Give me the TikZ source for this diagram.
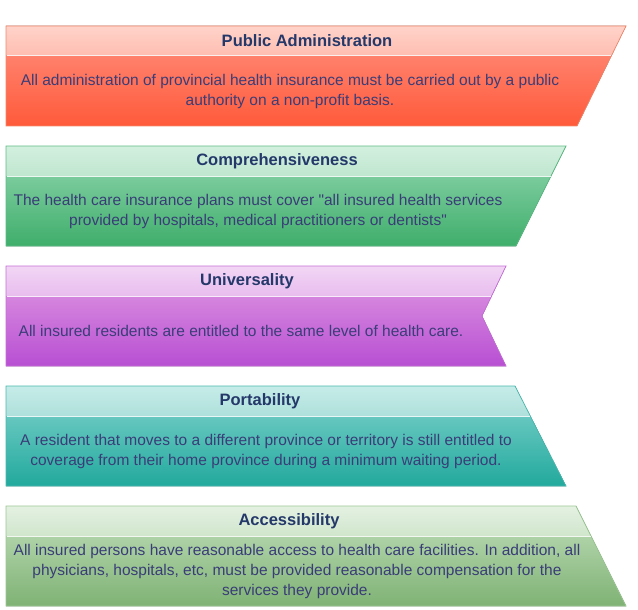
\documentclass[tikz,border=0pt]{standalone}
\usepackage{fontspec}
\setmainfont[Ligatures=TeXOff]{Liberation Sans}
\usepackage{tikz}
\usetikzlibrary{positioning}
\definecolor{hd-text}{HTML}{24386A}
\definecolor{bd-text}{HTML}{3A3D78}
% band colours
\definecolor{pa-head1}{HTML}{FFD3CA}\definecolor{pa-head2}{HTML}{FFBDB0}
\definecolor{pa-body1}{HTML}{FF806B}\definecolor{pa-body2}{HTML}{FF5A3A}
\definecolor{pa-line}{HTML}{F2876A}
\definecolor{co-head1}{HTML}{D3F0DF}\definecolor{co-head2}{HTML}{BFE6CF}
\definecolor{co-body1}{HTML}{7ACB9C}\definecolor{co-body2}{HTML}{3FAE6B}
\definecolor{co-line}{HTML}{5DBB84}
\definecolor{un-head1}{HTML}{F2D6F5}\definecolor{un-head2}{HTML}{E8BDEE}
\definecolor{un-body1}{HTML}{D585DE}\definecolor{un-body2}{HTML}{B84FD3}
\definecolor{un-line}{HTML}{C56ED8}
\definecolor{po-head1}{HTML}{C6ECE8}\definecolor{po-head2}{HTML}{AEE0DB}
\definecolor{po-body1}{HTML}{66C7BF}\definecolor{po-body2}{HTML}{22A99D}
\definecolor{po-line}{HTML}{49B9AF}
\definecolor{ac-head1}{HTML}{E4F1E2}\definecolor{ac-head2}{HTML}{D0E6CC}
\definecolor{ac-body1}{HTML}{AED2A7}\definecolor{ac-body2}{HTML}{7FB274}
\definecolor{ac-line}{HTML}{9CC794}

\begin{document}
\begin{tikzpicture}[x=1pt, y=-1pt,
    head text/.style={text=hd-text, font=\fontsize{16.5}{18}\selectfont\bfseries, inner sep=0pt},
    body text/.style={text=bd-text, font=\fontsize{15.5}{20}\selectfont, align=center, inner sep=0pt},
    split/.style={white, opacity=0.85, line width=1pt}]
    \useasboundingbox (0,0) rectangle (638,610);

    % Public Administration
    \fill[top color=pa-head1, bottom color=pa-head2] (6,26) -- (626,26) -- (611.3,56) -- (6,56) -- cycle;
    \fill[top color=pa-body1, bottom color=pa-body2] (6,56) -- (611.3,56) -- (577,126) -- (6,126) -- cycle;
    \draw[pa-line, line width=0.7pt] (6,26) -- (626,26) -- (577,126) -- (6,126) -- cycle;
    \draw[split] (6.5,56) -- (611,56);
    \node[head text] (pahead) at (307,41) {Public Administration};
    \node[body text] (patext) at (290,91) {All administration of provincial health insurance must be carried out by a public\\authority on a non-profit basis.};

    % Comprehensiveness
    \fill[top color=co-head1, bottom color=co-head2] (6,146) -- (566,146) -- (551,176) -- (6,176) -- cycle;
    \fill[top color=co-body1, bottom color=co-body2] (6,176) -- (551,176) -- (516,246) -- (6,246) -- cycle;
    \draw[co-line, line width=0.7pt] (6,146) -- (566,146) -- (516,246) -- (6,246) -- cycle;
    \draw[split] (6.5,176) -- (550.5,176);
    \node[head text] (cohead) at (277,161) {Comprehensiveness};
    \node[body text] (cotext) at (258,211) {The health care insurance plans must cover "all insured health services\\provided by hospitals, medical practitioners or dentists"};

    % Universality
    \fill[top color=un-head1, bottom color=un-head2] (6,266) -- (506,266) -- (491.6,296) -- (6,296) -- cycle;
    \fill[top color=un-body1, bottom color=un-body2] (6,296) -- (491.6,296) -- (482,316) -- (506,366) -- (6,366) -- cycle;
    \draw[un-line, line width=0.7pt] (6,266) -- (506,266) -- (482,316) -- (506,366) -- (6,366) -- cycle;
    \draw[split] (6.5,296) -- (491,296);
    \node[head text] (unhead) at (247,281) {Universality};
    \node[body text] (untext) at (241,331) {All insured residents are entitled to the same level of health care.};

    % Portability
    \fill[top color=po-head1, bottom color=po-head2] (6,386) -- (515,386) -- (530.3,416) -- (6,416) -- cycle;
    \fill[top color=po-body1, bottom color=po-body2] (6,416) -- (530.3,416) -- (566,486) -- (6,486) -- cycle;
    \draw[po-line, line width=0.7pt] (6,386) -- (515,386) -- (566,486) -- (6,486) -- cycle;
    \draw[split] (6.5,416) -- (530,416);
    \node[head text] (pohead) at (260,401) {Portability};
    \node[body text] (potext) at (266,451) {A resident that moves to a different province or territory is still entitled to\\coverage from their home province during a minimum waiting period.};

    % Accessibility
    \fill[top color=ac-head1, bottom color=ac-head2] (6,506) -- (576,506) -- (591,536) -- (6,536) -- cycle;
    \fill[top color=ac-body1, bottom color=ac-body2] (6,536) -- (591,536) -- (626,606) -- (6,606) -- cycle;
    \draw[ac-line, line width=0.7pt] (6,506) -- (576,506) -- (626,606) -- (6,606) -- cycle;
    \draw[split] (6.5,536) -- (590.5,536);
    \node[head text] (achead) at (289,521) {Accessibility};
    \node[body text] (actext) at (297,571) {All insured persons have reasonable access to health care facilities. In addition, all\\physicians, hospitals, etc, must be provided reasonable compensation for the\\services they provide.};
\end{tikzpicture}
\end{document}
